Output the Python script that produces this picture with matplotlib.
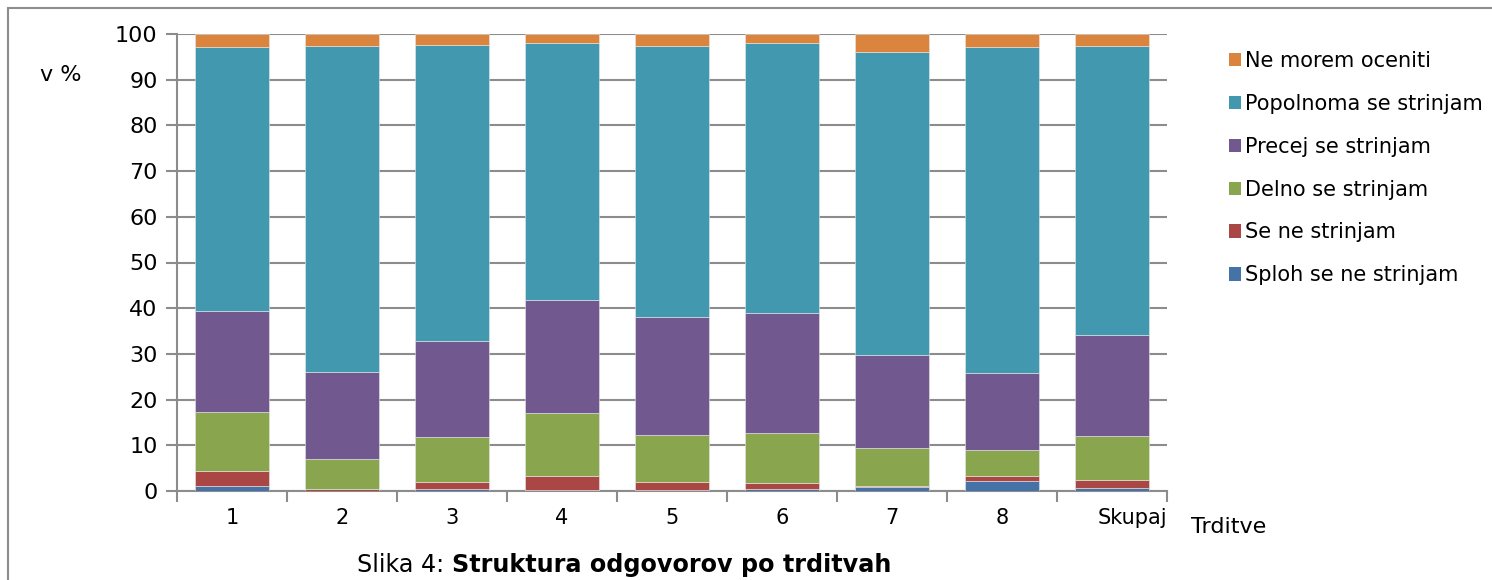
import numpy as np
import matplotlib.pyplot as plt
import matplotlib.transforms as mtransforms
from matplotlib.patches import Rectangle, Patch

# Data: share of answers per statement (in %)
categories = ['1', '2', '3', '4', '5', '6', '7', '8', 'Skupaj']
series = ['Sploh se ne strinjam', 'Se ne strinjam', 'Delno se strinjam',
          'Precej se strinjam', 'Popolnoma se strinjam', 'Ne morem oceniti']
sploh = [1.1, 0.0, 0.4, 0.2, 0.3, 0.5, 0.8, 2.2, 0.7]
ne_strinjam = [3.2, 0.4, 1.5, 3.0, 1.6, 1.3, 0.2, 1.0, 1.6]
delno = [12.9, 6.6, 9.9, 13.9, 10.3, 11.0, 8.3, 5.8, 9.8]
precej = [22.1, 19.1, 21.1, 24.6, 25.8, 26.2, 20.4, 16.8, 22.0]
popolnoma = [57.8, 71.3, 64.7, 56.3, 59.4, 59.0, 66.3, 71.3, 63.2]
ne_morem = [2.9, 2.6, 2.4, 2.0, 2.6, 2.0, 4.0, 2.9, 2.7]
values = [sploh, ne_strinjam, delno, precej, popolnoma, ne_morem]
colors = ['#4572A7', '#AA4643', '#89A54E', '#71588F', '#4198AF', '#DB843D']

grey = '#8C8C8C'
fs = 16

fig = plt.figure(figsize=(14.92, 5.80), dpi=100)
ax = fig.add_axes([177/1492, 1 - 491/580, (1167 - 177)/1492, (491 - 34)/580])

x = np.arange(len(categories))
bottom = np.zeros(len(categories))
for vals, col in zip(values, colors):
    ax.bar(x, vals, width=0.67, bottom=bottom, color=col,
           edgecolor='#E8E8E8', linewidth=0.4, zorder=3)
    bottom += np.array(vals)

ax.set_xlim(-0.5, len(categories) - 0.5)
ax.set_ylim(0, 100)
ax.set_yticks(np.arange(0, 101, 10))
ax.yaxis.grid(True, color=grey, linewidth=1.5, zorder=0)

ax.set_xticks(x)
ax.set_xticklabels(categories, fontsize=fs - 1)
ax.set_xticks(np.arange(-0.5, len(categories)), minor=True)
ax.tick_params(axis='x', which='major', length=0, pad=12)
ax.tick_params(axis='x', which='minor', length=8, width=1.5, color=grey)
ax.tick_params(axis='y', length=8, width=1.5, color=grey, labelsize=fs, pad=6)

# the last label sits a bit right of its bar in the original
lab = ax.get_xticklabels()[-1]
lab.set_transform(lab.get_transform() +
                  mtransforms.ScaledTranslation(0.2, 0, fig.dpi_scale_trans))

for s in ['top', 'right']:
    ax.spines[s].set_visible(False)
for s in ['left', 'bottom']:
    ax.spines[s].set_color(grey)
    ax.spines[s].set_linewidth(1.5)

fig.text(61/1492, 1 - 75/580, 'v %', fontsize=fs, ha='center', va='center')
fig.text(1229/1492, 1 - 527/580, 'Trditve', fontsize=fs, ha='center', va='center')

# caption: regular + bold part
t1 = fig.text(357/1492, 1 - 565/580, 'Slika 4: ', fontsize=17.2, ha='left', va='center')
fig.canvas.draw()
bb = t1.get_window_extent()
fig.text(bb.x1 / fig.bbox.width, 1 - 565/580, 'Struktura odgovorov po trditvah',
         fontsize=17.2, fontweight='bold', ha='left', va='center')

# legend in reversed order
handles = [Patch(facecolor=c) for c in colors][::-1]
fig.legend(handles, series[::-1], loc='upper left',
           bbox_to_anchor=(1210/1492, 1 - 32/580), frameon=False,
           fontsize=fs - 1, handlelength=0.6, handleheight=0.6,
           handletextpad=0.2, labelspacing=1.1)

# outer frame
fig.patches.append(Rectangle((8/1492, -0.05), 1.1, 1 - 8/580 + 0.05,
                             transform=fig.transFigure, fill=False,
                             edgecolor=grey, linewidth=1.5))

fig.savefig('out.png', dpi=100)
